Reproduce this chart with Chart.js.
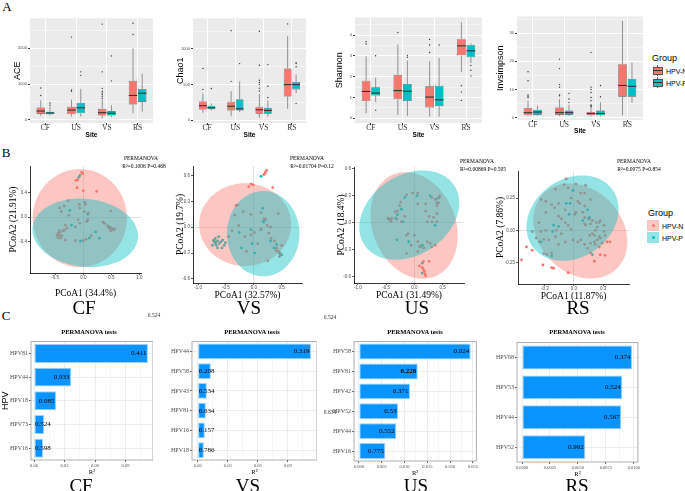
<!DOCTYPE html>
<html>
<head>
<meta charset="utf-8">
<script src="https://cdn.jsdelivr.net/npm/chart.js@4.4.1/dist/chart.umd.min.js"></script>
<style>
  body { margin: 0; background: #fff; }
  #page { position: relative; width: 685px; height: 491px; overflow: hidden; background: #fff; }
  canvas { position: absolute; }
  .txt { position: absolute; white-space: nowrap; line-height: 1; transform: translate(-50%, -50%); color: #000; }
</style>
</head>
<body>
<div id="page"></div>
<script>
const SERIF = '"Liberation Serif", "Times New Roman", serif';
const SANS = '"Liberation Sans", Arial, sans-serif';
const RED = '#F8766D', CYAN = '#00BFC4';

// ---------- A: alpha diversity (boxplots) ----------
const sites = ['CF', 'US', 'VS', 'RS'];
// per site: [lower whisker, q1, median, q3, upper whisker]
const aceN = [[109, 163, 245, 346, 545], [91, 155, 272, 362, 563], [45, 118, 200, 308, 563], [182, 427, 681, 1090, 2000]];
const aceP = [[118, 155, 191, 226, 362], [91, 182, 336, 471, 864], [73, 118, 182, 245, 409], [227, 500, 745, 864, 1290]];
const aceNOut = [[681, 891], [798, 836, 2316], [600, 650, 700, 750, 800, 880, 1343, 2680], [2390, 2705]];
const acePOut = [[409, 471], [1245, 1343], [1090, 1790], []];
const aceTicks = [0, 500, 1000, 1500, 2000, 2500];

const chaoN = [[104, 150, 204, 263, 372], [55, 136, 195, 259, 409], [36, 91, 146, 190, 364], [159, 331, 500, 727, 1182]];
const chaoP = [[136, 154, 173, 204, 236], [113, 136, 159, 295, 545], [50, 91, 136, 173, 272], [380, 432, 500, 536, 640]];
const chaoNOut = [[432, 727], [545, 1258], [409, 450, 500, 530, 560, 772, 1250], [1353]];
const chaoPOut = [[445], [795], [318, 477, 781], [236, 750, 795, 808]];
const chaoTicks = [0, 250, 500, 750, 1000, 1250];

const shanN = [[0.24, 0.83, 1.29, 1.81, 2.98], [0.16, 0.91, 1.33, 2.09, 3.56], [0.08, 0.52, 1.02, 1.54, 2.75], [2.23, 3.03, 3.49, 3.81, 4.63]];
const shanP = [[0.78, 1.10, 1.21, 1.49, 1.96], [0.11, 0.83, 1.30, 1.65, 2.78], [0.08, 0.58, 0.89, 1.57, 2.90], [2.67, 2.94, 3.25, 3.53, 3.61]];
const shanNOut = [[3.58, 3.69], [4.13], [3.17, 3.53, 3.80], [0.86, 1.26, 1.57]];
const shanPOut = [[0.39, 3.01], [2.94, 3.03], [3.53], [2.04, 2.31, 2.54]];
const shanTicks = [0, 0.5, 1, 1.5, 2, 2.5, 3, 3.5, 4, 4.5];

const invN = [[0.57, 0.8, 1.7, 3.4, 6.0], [0.46, 0.92, 1.72, 3.55, 6.5], [0.46, 0.8, 1.38, 1.95, 3.7], [0.8, 7.4, 11.4, 19.0, 34.4]];
const invP = [[0.69, 0.92, 1.95, 2.75, 4.2], [0.57, 0.92, 1.72, 2.5, 4.5], [0.46, 0.8, 1.38, 2.5, 5.4], [5.2, 7.4, 11.1, 13.7, 19.5]];
const invNOut = [[7.1, 7.6, 8.0, 13.1, 16.3], [7.7, 8.0, 10.8, 11.7, 17.4, 20.8], [3.9, 4.2, 4.5, 6.0, 7.1, 8.9, 10.0, 10.8, 23.2], []];
const invPOut = [[], [5.3, 6.6, 8.6], [7.4, 11.4], []];
const invTicks = [0, 5, 10, 15, 20, 25, 30, 35];

// ---------- B: PCoA ----------
const cfPtsN = [[-0.03, 0.73], [-0.01, 0.71], [-0.10, 0.61], [-0.13, 0.60], [-0.11, 0.48], [0.0, 0.43], [0.24, 0.42], [-0.27, 0.27],
  [-0.34, 0.18], [-0.39, 0.09], [-0.42, 0.15], [-0.07, 0.21], [-0.06, 0.15], [0.03, 0.24], [0.04, 0.21], [0.02, 0.09], [0.09, 0.07],
  [0.06, -0.07], [0.08, -0.04], [-0.09, -0.04], [-0.06, -0.10], [-0.14, -0.16], [-0.26, 0.03], [-0.32, -0.13], [-0.29, -0.18],
  [-0.43, -0.22], [-0.45, -0.26], [-0.42, -0.30], [-0.45, -0.34], [-0.40, -0.34], [-0.38, -0.30], [-0.36, -0.22], [-0.33, -0.21],
  [-0.44, -0.28], [-0.41, -0.24], [-0.47, -0.30], [-0.32, -0.37], [-0.14, -0.38], [0.0, -0.38], [0.05, -0.36], [0.14, -0.30],
  [0.49, 0.10], [0.35, -0.08], [0.38, -0.10], [0.43, -0.14], [0.48, -0.19], [0.50, -0.18], [0.52, -0.19], [0.54, -0.21],
  [0.49, -0.22], [0.45, -0.17], [0.56, -0.19]];
const cfPtsP = [[-0.06, 0.68], [-0.08, 0.65], [-0.24, 0.11], [0.08, 0.05], [-0.21, -0.13], [-0.05, -0.39], [0.11, -0.34],
  [0.29, -0.34], [0.22, -0.24], [0.46, -0.16], [0.48, -0.17]];
const vsPtsN = [[0.21, 0.64], [0.20, 0.62], [0.23, 0.66], [0.18, 0.61], [-0.05, 0.50], [-0.01, 0.49], [-0.09, 0.47], [0.34, 0.46],
  [-0.32, 0.25], [-0.29, 0.26], [-0.34, 0.14], [-0.19, 0.18], [-0.05, 0.15], [0.13, 0.17], [0.19, 0.10], [0.21, 0.09], [0.24, 0.02],
  [0.30, 0.00], [0.27, -0.07], [0.13, -0.02], [0.01, -0.06], [-0.05, -0.09], [-0.16, -0.11], [-0.27, 0.02], [-0.39, -0.04],
  [-0.45, -0.11], [-0.13, -0.28], [0.07, -0.19], [0.31, -0.13], [0.37, -0.16], [0.41, -0.24], [0.44, -0.28], [0.47, -0.30],
  [0.48, -0.32], [0.46, -0.34], [0.40, -0.27], [0.50, -0.21], [0.25, -0.39], [0.44, 0.16]];
const vsPtsP = [[0.13, 0.59], [0.17, 0.07], [0.21, 0.09], [0.18, 0.06], [0.13, -0.03], [-0.05, -0.03], [-0.26, -0.06], [-0.22, -0.24],
  [0.02, -0.30], [0.30, -0.16], [0.36, -0.24], [0.46, -0.30], [0.50, -0.32], [0.41, -0.20], [-0.03, -0.19], [0.16, 0.22],
  [-0.72, -0.15], [-0.71, -0.17], [-0.69, -0.19], [-0.68, -0.17], [-0.65, -0.16], [-0.74, -0.21], [-0.67, -0.21], [-0.62, -0.19],
  [-0.59, -0.17], [-0.56, -0.15], [-0.53, -0.21], [-0.51, -0.18], [-0.65, -0.24], [-0.57, -0.24], [-0.69, -0.13], [-0.63, -0.11]];
const usPtsN = [[0.09, -0.48], [0.16, -0.43], [0.26, -0.43], [0.16, -0.52], [0.18, -0.54], [0.19, -0.57], [0.20, -0.59], [0.14, -0.50],
  [0.31, -0.27], [0.37, -0.25], [-0.03, 0.33], [0.06, 0.33], [-0.14, 0.31], [-0.24, 0.23], [-0.26, 0.19], [-0.30, 0.13], [-0.34, 0.12],
  [-0.40, 0.05], [-0.43, 0.04], [-0.45, 0.04], [-0.47, 0.05], [-0.41, 0.01], [-0.31, 0.04], [-0.23, 0.01], [-0.17, 0.07], [0.06, 0.21],
  [0.20, 0.21], [0.20, 0.13], [0.23, 0.01], [0.31, 0.01], [0.40, 0.01], [0.34, 0.06], [0.40, 0.10], [0.26, 0.07], [0.31, 0.28],
  [0.37, 0.26], [0.40, 0.22], [0.43, 0.28], [0.45, 0.30], [0.40, 0.19], [0.43, 0.22], [-0.11, -0.12], [-0.14, -0.14], [0.0, -0.14],
  [0.06, -0.21], [0.09, -0.26], [0.11, -0.27], [0.17, -0.28], [0.23, -0.21], [0.28, -0.23], [-0.06, -0.25], [-0.14, -0.34], [0.06, -0.32]];
const usPtsP = [[0.14, -0.45], [0.14, -0.56], [-0.17, 0.28], [0.05, 0.30], [0.28, 0.30], [0.39, 0.26], [0.44, 0.28], [-0.23, 0.15],
  [-0.30, 0.09], [-0.33, 0.05], [-0.43, 0.03], [-0.20, 0.01], [0.37, -0.03], [-0.31, -0.19], [-0.10, -0.21], [0.14, -0.25]];
const rsPtsN = [[-0.54, -0.23], [-0.49, -0.13], [-0.43, -0.155], [-0.32, -0.27], [-0.23, -0.29], [-0.21, -0.295], [-0.06, -0.33],
  [0.21, -0.24], [0.32, -0.195], [-0.08, 0.40], [0.02, 0.36], [-0.10, 0.355], [-0.19, 0.32], [-0.06, 0.33], [0.07, 0.29], [0.11, 0.29],
  [0.04, 0.225], [0.01, 0.125], [0.02, 0.14], [0.09, 0.14], [0.11, 0.10], [0.16, 0.09], [0.19, 0.075], [0.17, 0.05], [0.11, 0.05],
  [0.12, 0.04], [0.23, 0.06], [0.26, 0.06], [0.27, 0.075], [0.31, 0.04], [0.24, 0.025], [0.22, 0.0], [0.19, -0.025], [0.16, -0.04],
  [0.21, -0.04], [0.26, -0.05], [0.27, -0.06], [0.24, -0.075], [0.21, -0.09], [0.17, -0.10], [0.22, -0.11], [0.29, -0.10],
  [0.26, -0.13], [0.27, -0.19], [0.17, -0.175], [0.14, -0.14], [0.11, -0.11], [0.07, -0.075], [0.04, -0.09], [-0.01, -0.075],
  [-0.03, 0.01], [-0.06, 0.04], [-0.09, 0.06], [-0.13, 0.09], [-0.16, 0.11], [-0.20, 0.175], [-0.23, 0.20], [-0.29, 0.225],
  [-0.34, 0.24], [-0.29, 0.14], [-0.36, 0.06], [-0.29, 0.0], [-0.34, -0.01], [-0.43, -0.01], [-0.39, -0.06], [-0.36, -0.09],
  [-0.31, -0.07], [-0.26, -0.075], [-0.19, -0.05], [-0.18, 0.0], [-0.13, -0.025], [-0.09, -0.09], [-0.16, -0.11], [-0.23, -0.175],
  [-0.28, -0.19], [-0.31, -0.18], [-0.16, 0.21], [-0.09, 0.16], [-0.03, 0.25], [0.06, 0.21], [0.11, 0.19], [0.31, -0.01],
  [0.32, -0.04], [0.34, -0.09], [0.37, -0.09], [0.12, 0.35], [0.17, 0.24]];
const rsPtsP = [[-0.01, 0.31], [-0.08, 0.21], [-0.04, 0.21], [-0.05, 0.125], [0.15, 0.09], [0.16, 0.10], [-0.21, 0.04], [-0.16, 0.03],
  [-0.22, -0.01], [-0.34, -0.09], [-0.23, -0.20], [0.19, -0.19], [0.27, -0.06], [0.14, 0.16], [0.09, 0.075]];
// ellipses: [centre x, centre y, radius x, radius y, angle in degrees]
const cfEll = [[-0.06, -0.015, 0.84, 0.80, 0], [0.035, -0.255, 0.945, 0.555, -5]];
const vsEll = [[-0.155, 0.03, 0.825, 0.48, 0], [0.17, -0.075, 0.65, 0.495, 0]];
const usEll = [[-0.005, -0.03, 0.793, 0.568, -18], [-0.09, 0.085, 0.9, 0.47, 12]];
const rsEll = [[0.065, -0.005, 0.5, 0.35, -20], [-0.015, 0.095, 0.484, 0.319, 15]];

// ---------- C: PERMANOVA per HPV type ----------
const cfHpv = ['HPV81', 'HPV44', 'HPV18', 'HPV73', 'HPV16'];
const cfR2 = [0.112, 0.0364, 0.0216, 0.0098, 0.0088];
const cfPv = ['0.411', '0.933', '0.085', '0.524', '0.598'];
const vsHpv = ['HPV44', 'HPV58', 'HPV43', 'HPV81', 'HPV16', 'HPV18'];
const vsR2 = [0.113, 0.0131, 0.0091, 0.0081, 0.0071, 0.0061];
const vsPv = ['0.319', '0.208', '0.534', '0.634', '0.157', '0.786'];
const usHpv = ['HPV58', 'HPV81', 'HPV42', 'HPV52', 'HPV44', 'HPV16'];
const usR2 = [0.0245, 0.0129, 0.0112, 0.0086, 0.0082, 0.0058];
const usPv = ['0.024', '0.228', '0.371', '0.53', '0.552', '0.775'];
const rsHpv = ['HPV68', 'HPV53', 'HPV44', 'HPV52'];
const rsR2 = [0.00984, 0.00897, 0.00888, 0.00566];
const rsPv = ['0.374', '0.524', '0.567', '0.992'];
const r2Ticks = [0, 0.015, 0.03, 0.045, 0.06, 0.075, 0.09, 0.105];
const usTicks = [0, 0.0025, 0.005, 0.0075, 0.01, 0.0125, 0.015, 0.0175, 0.02, 0.0225, 0.025];
const rsTicks = [0, 0.00125, 0.0025, 0.00375, 0.005, 0.00625, 0.0075, 0.00875, 0.01];

Chart.defaults.animation = false;
Chart.defaults.font.family = SANS;
const page = document.getElementById('page');

function addCanvas(x, y, w, h) {
  const c = document.createElement('canvas');
  c.width = w; c.height = h;
  c.style.left = x + 'px'; c.style.top = y + 'px';
  c.style.width = w + 'px'; c.style.height = h + 'px';
  page.appendChild(c);
  return c;
}

function addText(text, x, y, size, opts = {}) {
  const d = document.createElement('div');
  d.className = 'txt';
  d.textContent = text;
  d.style.left = x + 'px';
  d.style.top = y + 'px';
  d.style.fontSize = size + 'px';
  d.style.fontFamily = opts.family || SERIF;
  if (opts.bold) d.style.fontWeight = 'bold';
  if (opts.color) d.style.color = opts.color;
  if (opts.left) d.style.transform = 'translate(0, -50%)';
  page.appendChild(d);
}

const panelBg = {
  id: 'panelBg',
  beforeDraw(chart) {
    const a = chart.chartArea, ctx = chart.ctx;
    ctx.save();
    ctx.fillStyle = '#EBEBEB';
    ctx.fillRect(a.left, a.top, a.width, a.height);
    ctx.restore();
  }
};

// whiskers under the boxes, medians and outliers on top
const boxExtras = {
  id: 'boxExtras',
  beforeDatasetsDraw(chart) {
    const ctx = chart.ctx, ys = chart.scales.y;
    chart.data.datasets.forEach((ds, i) => {
      chart.getDatasetMeta(i).data.forEach((el, j) => {
        const s = ds.stats[j];
        ctx.save();
        ctx.strokeStyle = '#555';
        ctx.lineWidth = 0.6;
        ctx.beginPath();
        ctx.moveTo(el.x, ys.getPixelForValue(s[0]));
        ctx.lineTo(el.x, ys.getPixelForValue(s[1]));
        ctx.moveTo(el.x, ys.getPixelForValue(s[3]));
        ctx.lineTo(el.x, ys.getPixelForValue(s[4]));
        ctx.stroke();
        ctx.restore();
      });
    });
  },
  afterDatasetsDraw(chart) {
    const ctx = chart.ctx, ys = chart.scales.y;
    chart.data.datasets.forEach((ds, i) => {
      chart.getDatasetMeta(i).data.forEach((el, j) => {
        const s = ds.stats[j];
        ctx.save();
        ctx.strokeStyle = '#333';
        ctx.lineWidth = 1.1;
        ctx.beginPath();
        ctx.moveTo(el.x - el.width / 2, ys.getPixelForValue(s[2]));
        ctx.lineTo(el.x + el.width / 2, ys.getPixelForValue(s[2]));
        ctx.stroke();
        ctx.fillStyle = '#333';
        ds.out[j].forEach(v => {
          ctx.beginPath();
          ctx.arc(el.x, ys.getPixelForValue(v), 0.7, 0, Math.PI * 2);
          ctx.fill();
        });
        ctx.restore();
      });
    });
  }
};

function boxChart(p) {
  const cv = addCanvas(p.pos[0], p.pos[1], p.pos[2], p.pos[3]);
  new Chart(cv, {
    type: 'bar',
    data: {
      labels: sites,
      datasets: [
        { label: 'HPV-N', data: p.n.map(s => [s[1], s[3]]), stats: p.n, out: p.nOut,
          backgroundColor: RED, borderColor: '#555', borderWidth: 0.6, borderSkipped: false },
        { label: 'HPV-P', data: p.p.map(s => [s[1], s[3]]), stats: p.p, out: p.pOut,
          backgroundColor: CYAN, borderColor: '#555', borderWidth: 0.6, borderSkipped: false }
      ]
    },
    options: {
      responsive: false,
      datasets: { bar: { categoryPercentage: 0.6, barPercentage: 0.92 } },
      plugins: { legend: { display: false }, tooltip: { enabled: false } },
      scales: {
        x: {
          grid: { color: '#fff', offset: false, lineWidth: 1, tickLength: 2, tickColor: '#333' },
          border: { display: false },
          ticks: { font: { family: SERIF, size: 7.5 }, color: '#333', padding: -1, maxRotation: 0, autoSkip: false },
          title: { display: true, text: 'Site', font: { family: SANS, size: 6.5, weight: 'bold' }, color: '#000', padding: 0 },
          afterFit: a => { a.height = p.xh; }
        },
        y: {
          min: p.min, max: p.max,
          afterBuildTicks: a => { a.ticks = p.ticks.map(v => ({ value: v })); },
          grid: {
            color: '#fff',
            lineWidth: c => (c.index % 2 === 0 ? 1 : 0.5),
            tickLength: 2,
            tickColor: c => (c.index % 2 === 0 ? '#333' : 'rgba(0,0,0,0)')
          },
          border: { display: false },
          ticks: { font: { family: SANS, size: 4 }, color: '#4d4d4d', padding: 1, autoSkip: false,
            callback: (v, i) => (i % 2 === 0 ? String(v) : '') },
          title: { display: true, text: p.title, font: { family: SANS, size: 9 }, color: '#000', padding: { top: p.tp, bottom: 0 } },
          afterFit: a => { a.width = p.yw; }
        }
      }
    },
    plugins: [panelBg, boxExtras]
  });
}

function ellipsePlugin(list) {
  const fills = ['rgba(248,118,109,0.42)', 'rgba(0,191,196,0.42)'];
  return {
    id: 'ellipses',
    afterDatasetsDraw(chart) {
      const ctx = chart.ctx, a = chart.chartArea, xs = chart.scales.x, ys = chart.scales.y;
      ctx.save();
      ctx.beginPath();
      ctx.rect(a.left, a.top, a.width, a.height);
      ctx.clip();
      list.forEach(([cx, cy, rx, ry, deg], i) => {
        const th = deg * Math.PI / 180;
        ctx.beginPath();
        for (let k = 0; k <= 96; k++) {
          const t = k / 96 * Math.PI * 2;
          const dx = rx * Math.cos(t), dy = ry * Math.sin(t);
          const px = xs.getPixelForValue(cx + dx * Math.cos(th) - dy * Math.sin(th));
          const py = ys.getPixelForValue(cy + dx * Math.sin(th) + dy * Math.cos(th));
          if (k === 0) ctx.moveTo(px, py); else ctx.lineTo(px, py);
        }
        ctx.closePath();
        ctx.fillStyle = fills[i];
        ctx.fill();
      });
      ctx.restore();
    }
  };
}

function pcoaChart(p) {
  const cv = addCanvas(p.pos[0], p.pos[1], p.pos[2], p.pos[3]);
  const zeroGrid = c => (c.tick && Math.abs(c.tick.value) < 1e-9 ? '#d9d9d9' : 'rgba(0,0,0,0)');
  new Chart(cv, {
    type: 'scatter',
    data: {
      datasets: [
        { label: 'HPV-N', data: p.n.map(([x, y]) => ({ x, y })), backgroundColor: RED, borderWidth: 0, pointRadius: 1.4 },
        { label: 'HPV-P', data: p.p.map(([x, y]) => ({ x, y })), backgroundColor: CYAN, borderWidth: 0, pointRadius: 1.4 }
      ]
    },
    options: {
      responsive: false,
      plugins: { legend: { display: false }, tooltip: { enabled: false } },
      scales: {
        x: {
          type: 'linear', min: p.xr[0], max: p.xr[1],
          afterBuildTicks: a => { a.ticks = p.xt.map(v => ({ value: v })); },
          grid: { color: zeroGrid, lineWidth: 0.8, tickLength: 2, tickColor: '#333' },
          border: { color: '#000', width: 0.8 },
          ticks: { font: { family: SANS, size: 4.5 }, color: '#4d4d4d', padding: 0, maxRotation: 0, autoSkip: false,
            callback: v => v.toFixed(p.xd) },
          title: { display: true, text: p.xTitle, font: { family: SERIF, size: 9.5 }, color: '#000', padding: 0 },
          afterFit: a => { a.height = p.xh; }
        },
        y: {
          type: 'linear', min: p.yr[0], max: p.yr[1],
          afterBuildTicks: a => { a.ticks = p.yt.map(v => ({ value: v })); },
          grid: { color: zeroGrid, lineWidth: 0.8, tickLength: 2, tickColor: '#333' },
          border: { color: '#000', width: 0.8 },
          ticks: { font: { family: SANS, size: 4.5 }, color: '#4d4d4d', padding: 1, autoSkip: false,
            callback: v => v.toFixed(p.yd) },
          title: { display: true, text: p.yTitle, font: { family: SERIF, size: 9.5 }, color: '#000', padding: { top: p.tp, bottom: 0 } },
          afterFit: a => { a.width = p.yw; }
        }
      }
    },
    plugins: [ellipsePlugin(p.ell)]
  });
}

const frame = {
  id: 'frame',
  afterDraw(chart) {
    const a = chart.chartArea, ctx = chart.ctx;
    ctx.save();
    ctx.strokeStyle = '#a6a6a6';
    ctx.lineWidth = 0.9;
    ctx.strokeRect(a.left, a.top, a.width, a.height);
    ctx.restore();
  }
};

const barLabels = {
  id: 'barLabels',
  afterDatasetsDraw(chart) {
    const ctx = chart.ctx, ds = chart.data.datasets[0];
    chart.getDatasetMeta(0).data.forEach((el, i) => {
      const txt = ds.pv[i];
      ctx.save();
      ctx.font = (i === ds.boldIndex ? 'bold ' : '') + '7px ' + SERIF;
      const w = ctx.measureText(txt).width;
      ctx.fillStyle = '#000';
      ctx.textBaseline = 'middle';
      ctx.fillText(txt, Math.max(el.x - 1.5 - w, el.base + 0.5), el.y);
      ctx.restore();
    });
  }
};

function barChart(p) {
  const cv = addCanvas(p.pos[0], p.pos[1], p.pos[2], p.pos[3]);
  new Chart(cv, {
    type: 'bar',
    data: {
      labels: p.types,
      datasets: [{ data: p.r2, pv: p.pv, boldIndex: p.boldIndex,
        backgroundColor: '#0A94FF', borderColor: '#9ccfff', borderWidth: 1, borderSkipped: false,
        barPercentage: 0.8, categoryPercentage: 1 }]
    },
    options: {
      responsive: false,
      indexAxis: 'y',
      plugins: { legend: { display: false }, tooltip: { enabled: false } },
      scales: {
        x: {
          min: p.xr[0], max: p.xr[1],
          afterBuildTicks: a => { a.ticks = p.xt.map(v => ({ value: v })); },
          grid: { color: '#ebebeb', lineWidth: c => (c.index % 2 === 0 ? 0.9 : 0.45), tickLength: 2,
            tickColor: c => (c.index % 2 === 0 ? '#4d4d4d' : 'rgba(0,0,0,0)') },
          border: { display: false },
          ticks: { font: { family: SERIF, size: 4.5 }, color: '#4d4d4d', padding: 1, maxRotation: 0, autoSkip: false,
            callback: (v, i) => (i % 2 === 0 ? v.toFixed(p.xd) : '') },
          title: { display: true, text: 'R²', font: { family: SERIF, size: 6.5 }, color: '#000', padding: 0 },
          afterFit: a => { a.height = 16; }
        },
        y: {
          grid: { color: '#ebebeb', offset: false, lineWidth: 0.9, tickLength: 2, tickColor: '#4d4d4d' },
          border: { display: false },
          ticks: { font: { family: SERIF, size: 6 }, color: '#4d4d4d', padding: 1, autoSkip: false },
          title: { display: !!p.yTitle, text: 'HPV', font: { family: SANS, size: 9 }, color: '#000', padding: 0 },
          afterFit: a => { a.width = p.yw; }
        }
      }
    },
    plugins: [frame, barLabels]
  });
}

// ---- row A ----
boxChart({ pos: [10, 15, 143, 124], yw: 20, xh: 16, tp: 2.6, title: 'ACE', n: aceN, p: aceP, nOut: aceNOut, pOut: acePOut, min: -90, max: 2840, ticks: aceTicks });
boxChart({ pos: [172, 15, 134, 124], yw: 21, xh: 16, tp: 3.6, title: 'Chao1', n: chaoN, p: chaoP, nOut: chaoNOut, pOut: chaoPOut, min: -40, max: 1430, ticks: chaoTicks });
boxChart({ pos: [333, 14, 149, 125], yw: 22, xh: 16, tp: 1.1, title: 'Shannon', n: shanN, p: shanP, nOut: shanNOut, pOut: shanPOut, min: -0.23, max: 4.86, ticks: shanTicks });
boxChart({ pos: [494, 13, 149, 122], yw: 23, xh: 15, tp: 1.6, title: 'Invsimpson', n: invN, p: invP, nOut: invNOut, pOut: invPOut, min: -0.9, max: 36, ticks: invTicks });

// ---- row B ----
pcoaChart({ pos: [5, 162, 140, 137], yw: 25, xh: 26, tp: 2.6, n: cfPtsN, p: cfPtsP, ell: cfEll,
  xr: [-0.95, 1.03], yr: [-0.91, 0.835], xt: [-0.5, 0, 0.5, 1.0], yt: [-0.4, 0, 0.4], xd: 1, yd: 1,
  xTitle: 'PCoA1 (34.4%)', yTitle: 'PCoA2 (21.91%)' });
pcoaChart({ pos: [168, 162, 138, 139], yw: 25, xh: 18, tp: 6.3, n: vsPtsN, p: vsPtsP, ell: vsEll,
  xr: [-1.09, 0.865], yr: [-0.647, 0.71], xt: [-1.0, -0.5, 0, 0.5], yt: [-0.6, -0.3, 0, 0.3, 0.6], xd: 1, yd: 1,
  xTitle: 'PCoA1 (32.57%)', yTitle: 'PCoA2 (19.7%)' });
pcoaChart({ pos: [330, 163, 138, 138], yw: 24, xh: 18, tp: 6, n: usPtsN, p: usPtsP, ell: usEll,
  xr: [-1.07, 0.88], yr: [-0.67, 0.62], xt: [-1.0, -0.5, 0, 0.5], yt: [-0.6, -0.3, 0, 0.3, 0.6], xd: 1, yd: 1,
  xTitle: 'PCoA1 (31.49%)', yTitle: 'PCoA2 (18.4%)' });
pcoaChart({ pos: [493, 167, 140, 135], yw: 25, xh: 18, tp: 1.3, n: rsPtsN, p: rsPtsP, ell: rsEll,
  xr: [-0.577, 0.567], yr: [-0.418, 0.462], xt: [-0.3, 0, 0.3], yt: [-0.25, 0, 0.25], xd: 1, yd: 2,
  xTitle: 'PCoA1 (11.87%)', yTitle: 'PCoA2 (7.86%)' });

// ---- row C ----
barChart({ pos: [0, 337, 153, 139], yw: 31, yTitle: true, types: cfHpv, r2: cfR2, pv: cfPv, xr: [-0.003, 0.117], xt: r2Ticks, xd: 2 });
barChart({ pos: [165, 337, 152, 139], yw: 27, types: vsHpv, r2: vsR2, pv: vsPv, xr: [-0.0057, 0.119], xt: r2Ticks, xd: 2 });
barChart({ pos: [327, 337, 152, 140], yw: 27, types: usHpv, r2: usR2, pv: usPv, boldIndex: 1, xr: [-0.00107, 0.02575], xt: usTicks, xd: 3 });
barChart({ pos: [490, 338, 151, 140], yw: 27, types: rsHpv, r2: rsR2, pv: rsPv, xr: [-0.00045, 0.01037], xt: rsTicks, xd: 4 });

// ---- texts ----
addText('A', 7, 6, 13);
addText('B', 6, 152, 13);
addText('C', 6, 315, 13);

addText('PERMANOVA', 141, 159, 5.5);
addText('R²=0.1006   P=0.468', 144, 167, 5.5);
addText('PERMANOVA', 307, 159, 5.5);
addText('R²=0.01704   P=0.12', 312, 167, 5.5);
addText('PERMANOVA', 477, 162, 5.5);
addText('R²=0.00869   P=0.505', 483, 170, 5.5);
addText('PERMANOVA', 634, 162, 5.5);
addText('R²=0.0075   P=0.854', 639, 170, 5.5);

[['CF', 84], ['VS', 249], ['US', 417], ['RS', 578]].forEach(([t, x]) => addText(t, x, 307, 19));
[['CF', 81], ['VS', 248], ['US', 416], ['RS', 577]].forEach(([t, x]) => addText(t, x, 485, 19));
[89, 252, 415, 577].forEach(x => addText('PERMANOVA tests', x, 332, 6.5, { bold: true }));

addText('0.524', 154, 316, 5.5, { color: '#333' });
addText('0.524', 330, 318, 5.5, { color: '#333' });
addText('0.634', 330, 413, 5.5, { color: '#333' });

// ---- legends ----
function boxKey(x, y, color) {
  const k = document.createElement('div');
  k.style.cssText = 'position:absolute;left:' + x + 'px;top:' + y + 'px;width:11px;height:11px;background:#f2f2f2;';
  k.innerHTML = '<div style="position:absolute;left:5px;top:0;width:0.7px;height:11px;background:#555"></div>' +
    '<div style="position:absolute;left:1px;top:2px;width:8px;height:6px;background:' + color + ';border:0.6px solid #555"></div>' +
    '<div style="position:absolute;left:1px;top:5px;width:9px;height:1px;background:#333"></div>';
  page.appendChild(k);
}
function dotKey(x, y, fill, color) {
  const k = document.createElement('div');
  k.style.cssText = 'position:absolute;left:' + x + 'px;top:' + y + 'px;width:12px;height:11px;background:' + fill + ';';
  k.innerHTML = '<div style="position:absolute;left:4.5px;top:4px;width:3px;height:3px;border-radius:50%;background:' + color + '"></div>';
  page.appendChild(k);
}
addText('Group', 652, 58, 9, { family: SANS, left: true });
boxKey(652, 65, RED);
boxKey(652, 77, CYAN);
addText('HPV-N', 666, 71, 7, { family: SANS, left: true });
addText('HPV-P', 666, 83, 7, { family: SANS, left: true });

addText('Group', 648, 213, 9, { family: SANS, left: true });
dotKey(647, 220, 'rgba(248,118,109,0.42)', RED);
dotKey(647, 232, 'rgba(0,191,196,0.42)', CYAN);
addText('HPV-N', 662, 226, 7, { family: SANS, left: true });
addText('HPV-P', 662, 238, 7, { family: SANS, left: true });
</script>
</body>
</html>
